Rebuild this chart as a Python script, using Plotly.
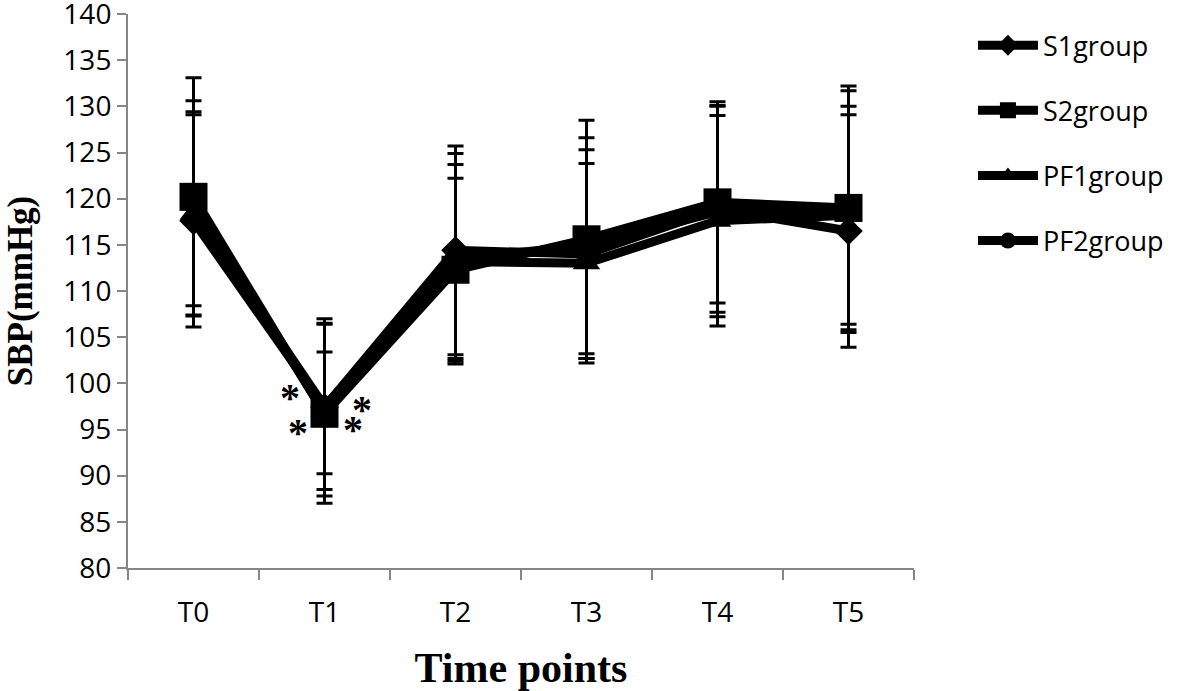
import plotly.graph_objects as go

time_points = ["T0", "T1", "T2", "T3", "T4", "T5"]
series_names = ["S1group", "S2group", "PF1group", "PF2group"]

s1_mean = [117.6, 97.4, 114.4, 114.0, 118.9, 116.5]
s1_sd = [11.5, 9.6, 11.3, 11.3, 11.2, 12.6]
s2_mean = [120.2, 96.7, 112.3, 115.6, 119.6, 119.0]
s2_sd = [12.9, 9.7, 9.9, 12.9, 10.9, 13.2]
pf1_mean = [118.4, 97.5, 113.2, 113.0, 117.6, 118.2]
pf1_sd = [11.0, 9.0, 10.5, 10.8, 11.4, 11.8]
pf2_mean = [119.5, 96.8, 113.5, 114.9, 118.6, 118.6]
pf2_sd = [11.1, 6.6, 11.4, 11.7, 11.4, 13.1]

symbols = ["diamond", "square", "triangle-up", "circle"]
marker_sizes = [22, 28, 24, 22]

star_y = [98.8, 95.0, 97.5, 95.3]
star_shift = [-35, -27, 37, 28]

fig = go.Figure()
means = [s1_mean, s2_mean, pf1_mean, pf2_mean]
sds = [s1_sd, s2_sd, pf1_sd, pf2_sd]
for name, m, sd, sym, ms in zip(series_names, means, sds, symbols, marker_sizes):
    fig.add_trace(go.Scatter(
        x=time_points, y=m, name=name, mode="lines+markers",
        legendgroup=name,
        line=dict(color="black", width=9),
        marker=dict(symbol=sym, size=ms, color="black"),
        error_y=dict(type="data", array=sd, visible=True, color="black",
                     thickness=3, width=8),
    ))

for yv, xs in zip(star_y, star_shift):
    fig.add_annotation(x="T1", y=yv, xshift=xs, text="<b>*</b>", showarrow=False,
                       font=dict(family="Liberation Serif", size=40, color="black"),
                       yshift=-3)

fig.update_layout(
    width=1181, height=691,
    paper_bgcolor="white", plot_bgcolor="white",
    margin=dict(l=128, r=265, t=14, b=123),
    showlegend=True,
    legend=dict(x=1.075, y=0.987, xanchor="left", yanchor="top",
                font=dict(family="Open Sans", size=27, color="black"),
                traceorder="grouped", tracegroupgap=27,
                itemwidth=60, bgcolor="rgba(0,0,0,0)"),
    font=dict(family="Open Sans", color="black"),
)
fig.update_xaxes(
    type="category", range=[-0.5, 5.5], tickson="boundaries",
    automargin=False,
    showline=True, linecolor="#868686", linewidth=2,
    ticks="outside", ticklen=10, tickcolor="#868686", tickwidth=2,
    ticklabelstandoff=18,
    showgrid=False, zeroline=False,
    tickfont=dict(family="Open Sans", size=28, color="black"),
    title=dict(text="<b>Time points</b>", standoff=25,
               font=dict(family="Liberation Serif", size=42, color="black")),
)
fig.update_yaxes(
    range=[80, 140], dtick=5, tick0=80,
    automargin=False, ticklabeloverflow="allow",
    showline=True, linecolor="#868686", linewidth=2,
    ticks="outside", ticklen=9, tickcolor="#868686", tickwidth=2,
    ticklabelstandoff=0,
    showgrid=False, zeroline=False,
    tickfont=dict(family="Open Sans", size=28, color="black"),
    title=dict(text="<b>SBP(mmHg)</b>", standoff=20,
               font=dict(family="Liberation Serif", size=35, color="black")),
)

fig.write_html("out.html", config={"displayModeBar": False},
               post_script="document.body.style.margin='0px';")
